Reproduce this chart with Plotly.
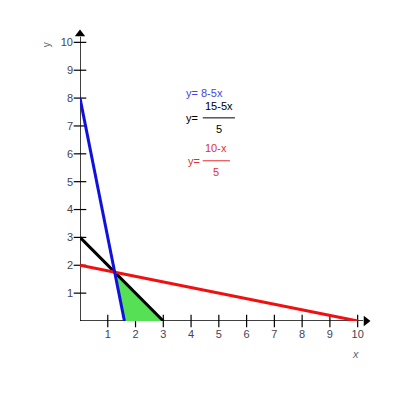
import plotly.graph_objects as go

# data: three lines of the system and the feasible region
x_blue = [0, 1.6]
y_blue = [8, 0]          # y = 8-5x
x_black = [0, 3]
y_black = [3, 0]         # y = (15-5x)/5
x_red = [0, 10]
y_red = [2, 0]           # y = (10-x)/5
region_x = [1.25, 1.6, 3, 1.25]
region_y = [1.75, 0, 0, 1.75]
ticks = [1, 2, 3, 4, 5, 6, 7, 8, 9, 10]

fig = go.Figure()

# crossing tick marks on both axes
fig.add_trace(go.Scatter(x=ticks, y=[0] * len(ticks), mode='markers', cliponaxis=False,
                         marker=dict(symbol='line-ns-open', size=9, color='black',
                                     line=dict(color='black', width=1.2)),
                         showlegend=False))
fig.add_trace(go.Scatter(x=[0] * len(ticks), y=ticks, mode='markers', cliponaxis=False,
                         marker=dict(symbol='line-ew-open', size=9, color='black',
                                     line=dict(color='black', width=1.2)),
                         showlegend=False))

fig.add_trace(go.Scatter(x=region_x, y=region_y, fill='toself', mode='none',
                         fillcolor='#55e055', showlegend=False))
fig.add_trace(go.Scatter(x=x_black, y=y_black, mode='lines',
                         line=dict(color='black', width=3), showlegend=False))
fig.add_trace(go.Scatter(x=x_red, y=y_red, mode='lines',
                         line=dict(color='#ee1111', width=3), showlegend=False))
fig.add_trace(go.Scatter(x=x_blue, y=y_blue, mode='lines',
                         line=dict(color='#1111dd', width=3), showlegend=False))

# arrow heads at the axis ends
fig.add_trace(go.Scatter(x=[10.3], y=[0], mode='markers', cliponaxis=False,
                         marker=dict(symbol='triangle-right', size=9, color='black'),
                         showlegend=False))
fig.add_trace(go.Scatter(x=[0], y=[10.3], mode='markers', cliponaxis=False,
                         marker=dict(symbol='triangle-up', size=9, color='black'),
                         showlegend=False))

tickfont = dict(family='Liberation Sans, Arial', size=11, color='#444455')
ax_common = dict(range=[0, 10.3], showgrid=False, zeroline=False,
                 tickvals=ticks, ticks='', showline=False, fixedrange=True,
                 tickfont=tickfont)

fig.update_layout(
    width=392, height=392,
    margin=dict(l=72, r=34, t=26, b=79),
    plot_bgcolor='white', paper_bgcolor='white',
    xaxis=dict(ax_common, ticklabelstandoff=5),
    yaxis=dict(ax_common, ticklabelstandoff=6),
    font=dict(family='Liberation Sans, Arial', size=11),
)

# axis lines
fig.add_shape(type='line', x0=0, x1=10.2, y0=0, y1=0, layer='below',
              line=dict(color='black', width=1.5))
fig.add_shape(type='line', x0=0, x1=0, y0=0, y1=10.2, layer='below',
              line=dict(color='black', width=1.5))

# axis titles
fig.add_annotation(xref='paper', yref='paper', x=-0.143, y=0.979, text='y',
                   showarrow=False, textangle=-90, font=dict(size=10, color='#666666'))
fig.add_annotation(xref='paper', yref='paper', x=0.983, y=-0.142, text='<i>x</i>',
                   showarrow=False, font=dict(size=11, color='#666666'))

# equation labels
fig.add_annotation(x=3.75, y=8.2, text='y= 8-5x', showarrow=False, xanchor='left',
                   font=dict(size=11, color='#4444ee'))
fig.add_annotation(x=3.73, y=7.29, text='y=', showarrow=False, xanchor='left',
                   font=dict(size=11, color='black'))
fig.add_annotation(x=5.0, y=7.72, text='15-5x', showarrow=False,
                   font=dict(size=11, color='black'))
fig.add_annotation(x=5.0, y=6.88, text='5', showarrow=False,
                   font=dict(size=11, color='black'))
fig.add_shape(type='line', x0=4.42, x1=5.58, y0=7.29, y1=7.29, line=dict(color='black', width=1))
fig.add_annotation(x=3.8, y=5.75, text='y=', showarrow=False, xanchor='left',
                   font=dict(size=11, color='#e03030'))
fig.add_annotation(x=4.9, y=6.2, text='10-x', showarrow=False,
                   font=dict(size=11, color='#e03030'))
fig.add_annotation(x=4.9, y=5.33, text='5', showarrow=False,
                   font=dict(size=11, color='#e03030'))
fig.add_shape(type='line', x0=4.42, x1=5.4, y0=5.75, y1=5.75, line=dict(color='#e03030', width=1))

fig.write_html("out.html")
